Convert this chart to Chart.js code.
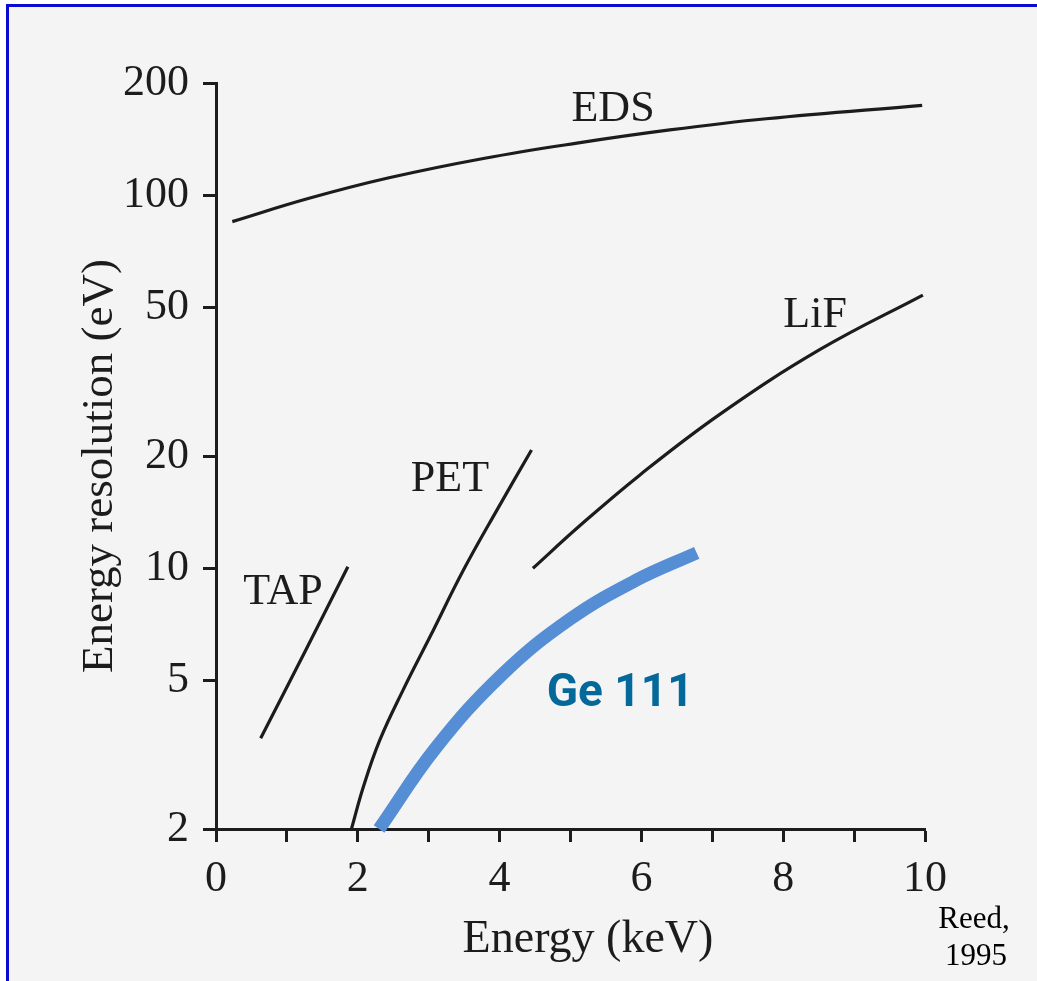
<!DOCTYPE html>
<html>
<head>
<meta charset="utf-8">
<script src="https://cdn.jsdelivr.net/npm/chart.js@4"></script>
<style>
  body { margin: 0; background: #ffffff; }
  #wrap { width: 1037px; height: 981px; }
</style>
</head>
<body>
<div id="wrap"><canvas id="myChart" width="1037" height="981"></canvas></div>
<script>
// data (energy in keV, resolution in eV)
var edsE = [0.23, 1.3, 2.44, 3.79, 5.09, 6.4, 7.76, 9.96];
var edsR = [85, 98, 111.4, 125.7, 138, 149.7, 160.4, 174.2];
var tapE = [0.63, 1.24, 1.86];
var tapR = [3.5, 5.9, 10.1];
var petE = [1.91, 2.08, 2.31, 2.64, 3.02, 3.49, 3.96, 4.45];
var petR = [2.0, 2.6, 3.46, 4.72, 6.56, 9.89, 14.3, 20.75];
var lifE = [4.47, 5.13, 5.98, 7.11, 8.52, 9.97];
var lifR = [10.0, 13.0, 17.8, 25.9, 38.6, 54.0];
var geE = [2.3, 3.1, 4.04, 4.99, 5.93, 6.78];
var geR = [2.0, 3.3, 5.2, 7.3, 9.3, 11.0];

var yTicks = [2, 5, 10, 20, 50, 100, 200];
var xLabels = ['0', '', '2', '', '4', '', '6', '', '8', '', '10'];

// curve names and where they sit (data coords)
var curveNames = ['EDS', 'LiF', 'PET', 'TAP'];
var curveNameE = [5.6, 8.45, 3.3, 0.945];
var curveNameR = [170, 47.5, 17.3, 8.59];

var ink = '#1c1c1c';
var serif = "'Liberation Serif', 'DejaVu Serif', serif";

function pts(xs, ys) {
    return xs.map(function (x, i) { return { x: x, y: ys[i] }; });
}

function curve(label, xs, ys) {
    return {
        label: label,
        data: pts(xs, ys),
        showLine: true,
        borderColor: ink,
        borderWidth: 3.2,
        pointRadius: 0,
        tension: 0.4,
        fill: false
    };
}

var pagePlugin = {
    id: 'page',
    beforeDraw: function (chart) {
        var c = chart.ctx;
        c.save();
        c.fillStyle = '#ffffff';
        c.fillRect(0, 0, chart.width, chart.height);
        c.fillStyle = '#f4f4f4';
        c.fillRect(8, 6, chart.width - 8, chart.height - 6);
        // blue frame, top and left
        c.fillStyle = '#0a0ad0';
        c.fillRect(6, 4, chart.width - 6, 3);
        c.fillRect(6, 4, 3, chart.height - 4);
        c.restore();
    },
    afterDraw: function (chart) {
        var c = chart.ctx;
        var xs = chart.scales.x, ys = chart.scales.y;
        c.save();
        c.fillStyle = ink;
        c.textAlign = 'center';
        c.textBaseline = 'middle';
        c.font = '44px ' + serif;
        // curve names
        curveNames.forEach(function (t, i) {
            c.fillText(t, xs.getPixelForValue(curveNameE[i]), ys.getPixelForValue(curveNameR[i]));
        });
        // axis titles
        c.font = '46px ' + serif;
        c.fillText('Energy (keV)', 588, 940);
        c.save();
        c.translate(100, 466);
        c.rotate(-Math.PI / 2);
        c.font = '45px ' + serif;
        c.fillText('Energy resolution (eV)', 0, 0);
        c.restore();
        // Ge 111 label
        c.fillStyle = '#04699a';
        c.font = 'bold 46px Roboto, sans-serif';
        c.fillText('Ge 111', xs.getPixelForValue(5.7), ys.getPixelForValue(4.6));
        // source
        c.fillStyle = '#000000';
        c.font = '31px ' + serif;
        c.fillText('Reed,', 974, 920);
        c.fillText('1995', 976, 957);
        c.restore();
    }
};

var context = document.getElementById('myChart');
var graph = new Chart(context, {
    type: 'scatter',
    data: {
        datasets: [
            curve('EDS', edsE, edsR),
            curve('TAP', tapE, tapR),
            curve('PET', petE, petR),
            curve('LiF', lifE, lifR),
            {
                label: 'Ge 111',
                data: pts(geE, geR),
                showLine: true,
                borderColor: '#558ed5',
                borderWidth: 13,
                borderCapStyle: 'butt',
                pointRadius: 0,
                tension: 0.4,
                fill: false,
                clip: 20
            }
        ]
    },
    options: {
        responsive: false,
        animation: false,
        layout: { padding: { top: 83, right: 112, left: 0, bottom: 0 } },
        plugins: {
            legend: { display: false },
            tooltip: { enabled: false }
        },
        scales: {
            x: {
                type: 'linear',
                min: 0,
                max: 10,
                afterFit: function (s) { s.height = 152; },
                afterBuildTicks: function (s) {
                    s.ticks = xLabels.map(function (l, i) { return { value: i }; });
                },
                ticks: {
                    autoSkip: false,
                    maxRotation: 0,
                    padding: 11,
                    color: ink,
                    font: { family: serif, size: 44 },
                    callback: function (v) { return xLabels[v]; }
                },
                grid: { drawOnChartArea: false, tickLength: 13, tickWidth: 3, tickColor: ink },
                border: { color: ink, width: 3 }
            },
            y: {
                type: 'logarithmic',
                min: 2,
                max: 200,
                afterFit: function (s) { s.width = 216; },
                afterBuildTicks: function (s) {
                    s.ticks = yTicks.map(function (v) { return { value: v }; });
                },
                ticks: {
                    padding: 14,
                    color: ink,
                    font: { family: serif, size: 44 },
                    callback: function (v) { return String(v); }
                },
                grid: { drawOnChartArea: false, tickLength: 13, tickWidth: 3, tickColor: ink },
                border: { color: ink, width: 3 }
            }
        }
    },
    plugins: [pagePlugin]
});
</script>
</body>
</html>
